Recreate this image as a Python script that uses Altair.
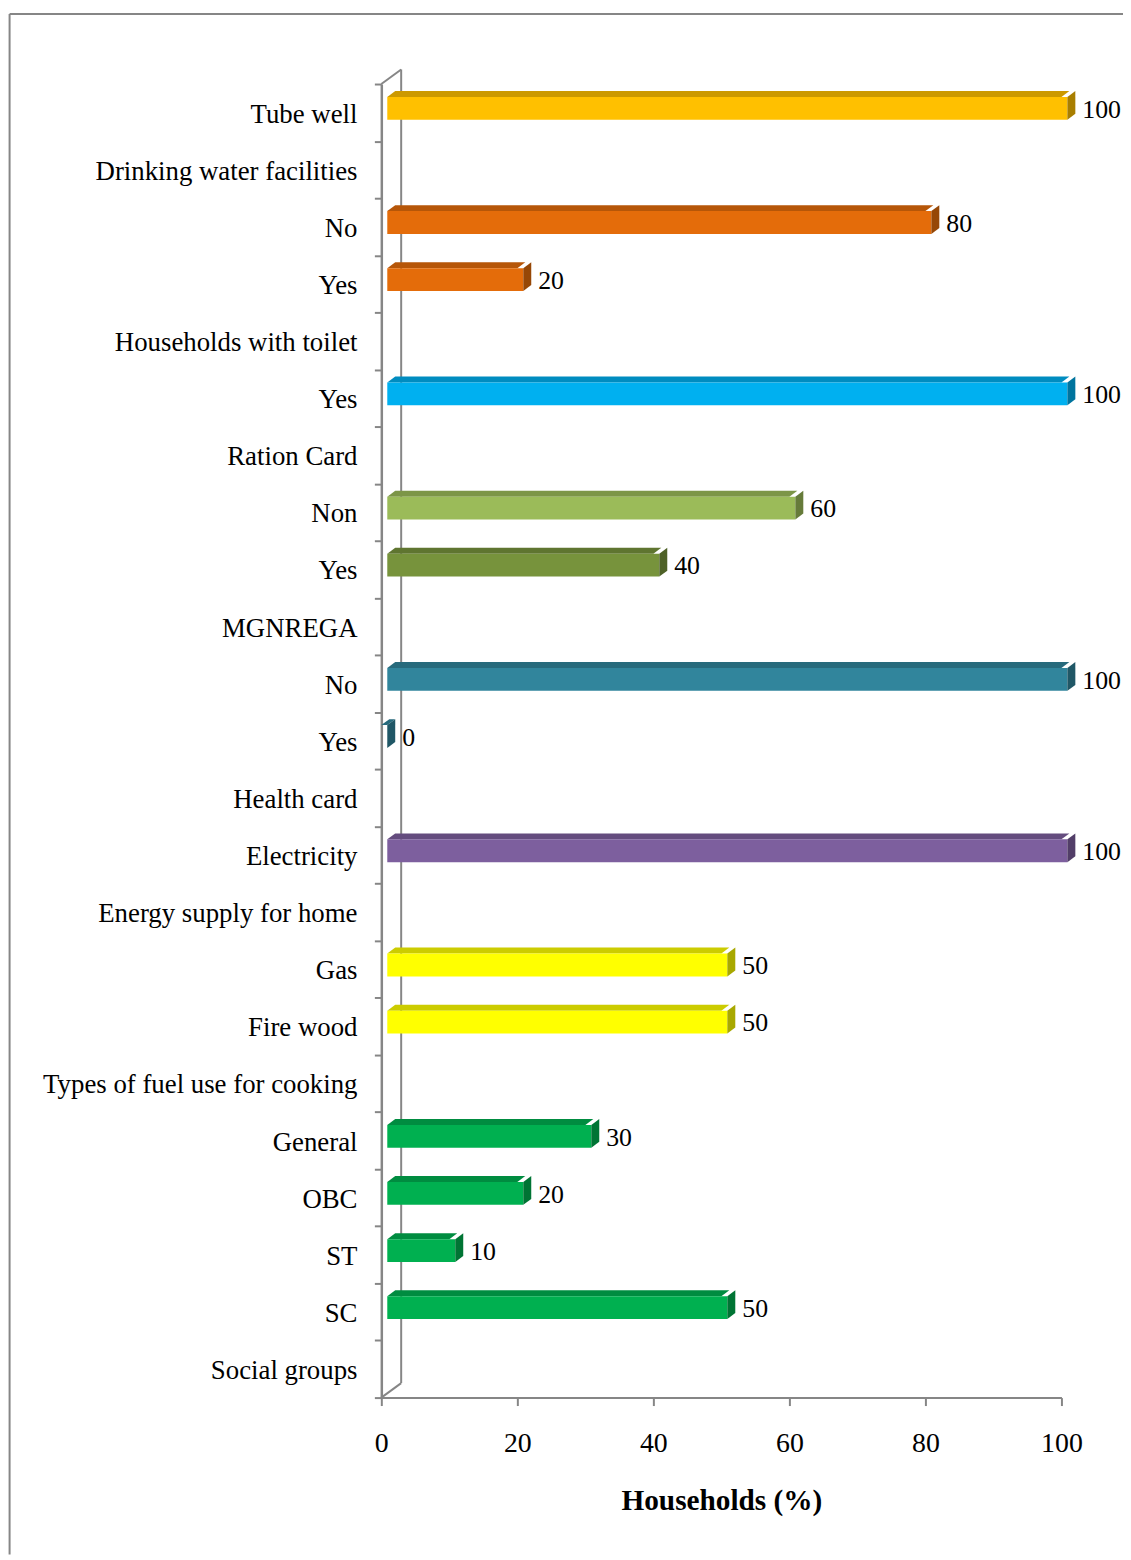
import altair as alt
import pandas as pd

# ---------------- data (top row first) ----------------
categories = [
    "Tube well", "Drinking water facilities", "No", "Yes",
    "Households with toilet", "Yes", "Ration Card", "Non", "Yes",
    "MGNREGA", "No", "Yes", "Health card", "Electricity",
    "Energy supply for home", "Gas", "Fire wood",
    "Types of fuel use for cooking", "General", "OBC", "ST", "SC",
    "Social groups",
]
values = [100, None, 80, 20, None, 100, None, 60, 40, None, 100, 0, None,
          100, None, 50, 50, None, 30, 20, 10, 50, None]
series = ["tube", None, "drink", "drink", None, "toilet", None, "ration_non",
          "ration_yes", None, "mgnrega", "mgnrega", None, "electricity", None,
          "fuel", "fuel", None, "social", "social", "social", "social", None]
x_ticks = [0, 20, 40, 60, 80, 100]

# ---------------- styles ----------------
series_colors = {
    "tube": "#FFC000", "drink": "#E46C0A", "toilet": "#00B0F0",
    "ration_non": "#9BBB59", "ration_yes": "#77933C", "mgnrega": "#31859C",
    "electricity": "#7D5F9E", "fuel": "#FFFF00", "social": "#00B050",
}


def shade(hexcol, f):
    r, g, b = (int(hexcol[k:k + 2], 16) for k in (1, 3, 5))
    return "#%02X%02X%02X" % (int(r * f), int(g * f), int(b * f))


TOP_F, SIDE_F = 0.80, 0.66
FONT = "Liberation Serif"
GRAY = "#868686"
W, H = 685, 1323
PAD = {"left": 376, "top": 71, "right": 62, "bottom": 158}
XMAX = 100
N = len(categories)
PX_X = W / XMAX
PX_Y = H / N
SHIFT = 6          # px: front face shift to the right
DX, DY = 8, 6      # px: depth of 3D bars
F_TOP, F_BOT = -15.8, 7.2  # px: front face relative to band centre
WALL_DX, WALL_DY = 20, -14.6

# ---------------- derived tables ----------------
bars = pd.DataFrame([
    {"y": i, "x": 0, "x2": v, "c": series_colors[s]}
    for i, (v, s) in enumerate(zip(values, series)) if v is not None
])
top_rows, side_rows = [], []
for i, (v, s) in enumerate(zip(values, series)):
    if v is None:
        continue
    ct = shade(series_colors[s], TOP_F)
    cs = shade(series_colors[s], SIDE_F)
    top_rows += [
        {"id": i, "c": ct, "y": i + F_TOP / PX_Y, "x": 0, "x2": v},
        {"id": i, "c": ct, "y": i + (F_TOP - DY) / PX_Y, "x": DX / PX_X, "x2": v + DX / PX_X},
    ]
    side_rows += [
        {"id": i, "c": cs, "x": v, "y": i + F_TOP / PX_Y, "y2": i + F_BOT / PX_Y},
        {"id": i, "c": cs, "x": v + DX / PX_X, "y": i + (F_TOP - DY) / PX_Y,
         "y2": i + (F_BOT - DY) / PX_Y},
    ]
top_df = pd.DataFrame(top_rows)
side_df = pd.DataFrame(side_rows)
labels_df = pd.DataFrame({"y": list(range(N)), "label": categories})

xscale = alt.Scale(domain=[0, XMAX], nice=False, zero=True)
yscale = alt.Scale(domain=[-0.5, N - 0.5], nice=False, zero=False, reverse=True)
xaxis = alt.Axis(values=x_ticks, grid=False, tickSize=8, labelFlush=False,
                 labelOverlap=False, tickWidth=2, tickColor=GRAY,
                 domainColor=GRAY, domainWidth=2,
                 labelFont=FONT, labelFontSize=28, labelColor="black",
                 labelPadding=24, title="Households (%)", titleFont=FONT,
                 titleFontSize=29.5, titleFontWeight="bold", titleColor="black",
                 titlePadding=30)
yaxis = alt.Axis(values=[k - 0.5 for k in range(N + 1)], labels=False,
                 grid=False, tickSize=7, tickWidth=2, tickColor=GRAY,
                 domainColor=GRAY, domainWidth=2.5, title=None)

X = lambda f="x": alt.X(f"{f}:Q", scale=xscale, axis=xaxis, stack=None)
Y = lambda f="y": alt.Y(f"{f}:Q", scale=yscale, axis=yaxis, stack=None)
FILL = alt.Fill("c:N", scale=None, legend=None)

# outer frame: top and left edges (the others fall outside the picture)
one = alt.Data(values=[{}])
FL, FT = -374.4, -70.5
frame_top = alt.Chart(one).mark_rule(color=GRAY, strokeWidth=2).encode(
    x=alt.value(FL), x2=alt.value(W + PAD["right"]), y=alt.value(FT))
frame_left = alt.Chart(one).mark_rule(color=GRAY, strokeWidth=2).encode(
    x=alt.value(FL), y=alt.value(FT), y2=alt.value(H + PAD["bottom"]))

walls = pd.DataFrame([
    {"x": 0, "y": -0.5, "x2": 0, "y2": -0.5},
    {"x": 0, "y": N - 0.5, "x2": 0, "y2": N - 0.5},
])
diag = alt.Chart(walls).mark_rule(
    color=GRAY, strokeWidth=2, x2Offset=WALL_DX, y2Offset=WALL_DY
).encode(x=X(), x2="x2:Q", y=Y(), y2="y2:Q")
back = alt.Chart(pd.DataFrame([{"x": 0, "y": -0.5, "y2": N - 0.5}])).mark_rule(
    color=GRAY, strokeWidth=2, xOffset=WALL_DX, yOffset=WALL_DY, y2Offset=WALL_DY
).encode(x=X(), y=Y(), y2="y2:Q")

front = alt.Chart(bars).mark_rect(
    xOffset=SHIFT, x2Offset=SHIFT, yOffset=F_TOP, y2Offset=F_BOT
).encode(x=X(), x2="x2:Q", y=Y(), y2="y:Q", fill=FILL)

top = alt.Chart(top_df).mark_area(orient="horizontal", xOffset=SHIFT).encode(
    x=X(), x2="x2:Q", y=Y(), detail="id:N", fill=FILL)

side = alt.Chart(side_df).mark_area(orient="vertical", xOffset=SHIFT).encode(
    x=X(), y=Y(), y2="y2:Q", detail="id:N", fill=FILL)

vals = alt.Chart(bars).mark_text(
    align="left", baseline="middle", font=FONT, fontSize=26, color="black",
    xOffset=21, yOffset=-3
).encode(x=alt.X("x2:Q", scale=xscale, axis=xaxis), y=Y(), text="x2:Q")

cats = alt.Chart(labels_df).mark_text(
    align="right", baseline="middle", font=FONT, fontSize=27, color="black",
    yOffset=2
).encode(x=alt.value(-24), y=Y(), text="label:N")

chart = alt.layer(frame_top, frame_left, back, diag, top, front, side, vals, cats).properties(
    width=W, height=H,
    autosize=alt.AutoSizeParams(type="none"),
    padding=PAD,
).configure(background="white", view=alt.ViewConfig(strokeWidth=0, stroke=None))

chart.save("out.html", embed_options={"renderer": "svg", "actions": False})
